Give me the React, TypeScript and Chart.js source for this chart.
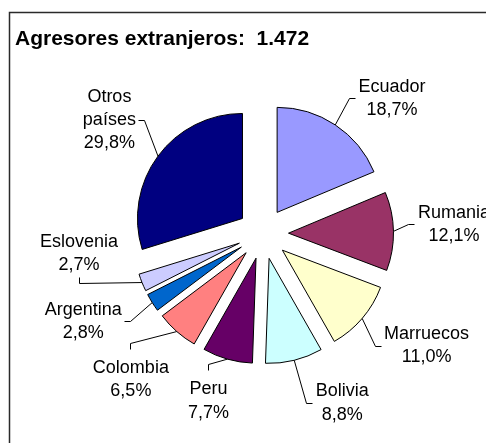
import React, { useEffect, useRef } from "react";
import { Chart, registerables } from "chart.js";

Chart.register(...registerables);

// ---- data ----
const TITLE = "Agresores extranjeros:  1.472";
const categories = [
  "Ecuador",
  "Rumania",
  "Marruecos",
  "Bolivia",
  "Peru",
  "Colombia",
  "Argentina",
  "Eslovenia",
  "Otros países",
];
const values = [18.7, 12.1, 11.0, 8.8, 7.7, 6.5, 2.8, 2.7, 29.8];
const colors = [
  "#9999FF",
  "#993366",
  "#FFFFCC",
  "#CCFFFF",
  "#660066",
  "#FF8080",
  "#0066CC",
  "#CCCCFF",
  "#000080",
];

// ---- layout / style ----
const RADIUS = 105;
const EXPLODE = 25.5;
const FONT_SIZE = 18;
const LINE_H = 23.3;
const CAP = 12.9;
const DESC = 3.8;
const HOOK = 6;
const GAP_SIDE = 3;
const GAP_TOP = 11;
const GAP_BOTTOM = 4;

type Side = "left" | "right" | "top" | "bottom";
// label placement relative to each slice's outer mid-arc point
const LABEL_LAYOUT: { dx: number; dy: number; side: Side; wrap?: boolean }[] = [
  { dx: 56.7, dy: -33.3, side: "left" },
  { dx: 60.5, dy: -13.7, side: "left" },
  { dx: 64.4, dy: 20.7, side: "left" },
  { dx: 48, dy: 36.1, side: "left" },
  { dx: -19, dy: 35.3, side: "top" },
  { dx: -45.9, dy: 41.6, side: "top" },
  { dx: -68.9, dy: 12.2, side: "right" },
  { dx: -63, dy: -36, side: "bottom" },
  { dx: -48.6, dy: -54.5, side: "right", wrap: true },
];

const fmtPct = (v: number) => v.toFixed(1).replace(".", ",") + "%";
const snap = (v: number) => Math.round(v - 0.5) + 0.5;

const framePlugin = {
  id: "frame",
  beforeDraw(chart: any) {
    const ctx = chart.ctx;
    ctx.save();
    ctx.strokeStyle = "#2a2a2a";
    ctx.lineWidth = 1.5;
    ctx.beginPath();
    ctx.moveTo(1.5, chart.height + 5);
    ctx.lineTo(1.5, 4.5);
    ctx.lineTo(chart.width + 5, 4.5);
    ctx.stroke();
    ctx.restore();
  },
};

const explodePlugin = {
  id: "explode",
  afterDatasetUpdate(chart: any, args: any) {
    args.meta.data.forEach((arc: any) => {
      const mid = (arc.startAngle + arc.endAngle) / 2;
      arc.x += Math.cos(mid) * EXPLODE;
      arc.y += Math.sin(mid) * EXPLODE;
    });
  },
};

const labelPlugin = {
  id: "pieLabels",
  afterDatasetsDraw(chart: any) {
    const ctx = chart.ctx;
    const meta = chart.getDatasetMeta(0);
    ctx.save();
    ctx.font = `${FONT_SIZE}px "Liberation Sans", Arial, sans-serif`;
    ctx.textAlign = "center";
    ctx.textBaseline = "alphabetic";
    ctx.fillStyle = "#000";
    ctx.strokeStyle = "#000";
    ctx.lineWidth = 1;
    meta.data.forEach((arc: any, i: number) => {
      const L = LABEL_LAYOUT[i];
      const mid = (arc.startAngle + arc.endAngle) / 2;
      const px = arc.x + Math.cos(mid) * arc.outerRadius;
      const py = arc.y + Math.sin(mid) * arc.outerRadius;
      const name = categories[i];
      const lines = [...(L.wrap ? name.split(" ") : [name]), fmtPct(values[i])];
      const cx = px + L.dx;
      const b1 = py + L.dy;
      const w = Math.max(...lines.map((t) => ctx.measureText(t).width));
      const top = b1 - CAP;
      const bottom = b1 + (lines.length - 1) * LINE_H + DESC;
      const midY = (top + bottom) / 2;
      let ax = 0, ay = 0, ex = 0, ey = 0;
      if (L.side === "left") {
        ax = cx - w / 2 - GAP_SIDE; ay = midY; ex = ax - HOOK; ey = ay;
      } else if (L.side === "right") {
        ax = cx + w / 2 + GAP_SIDE; ay = midY; ex = ax + HOOK; ey = ay;
      } else if (L.side === "top") {
        ax = cx; ay = top - GAP_TOP; ex = ax; ey = ay - HOOK;
      } else {
        ax = cx; ay = bottom + GAP_BOTTOM; ex = ax; ey = ay + HOOK;
      }
      ax = snap(ax); ay = snap(ay); ex = snap(ex); ey = snap(ey);
      ctx.beginPath();
      ctx.moveTo(px, py);
      ctx.lineTo(ex, ey);
      ctx.lineTo(ax, ay);
      ctx.stroke();
      lines.forEach((t, k) => ctx.fillText(t, cx, b1 + k * LINE_H));
    });
    ctx.restore();
  },
};

export default function App() {
  const ref = useRef<HTMLCanvasElement | null>(null);
  useEffect(() => {
    if (!ref.current) return;
    const chart = new Chart(ref.current, {
      type: "pie",
      data: {
        labels: categories,
        datasets: [
          {
            data: values,
            backgroundColor: colors,
            borderColor: "#000",
            borderWidth: 1,
          },
        ],
      },
      options: {
        responsive: false,
        animation: false,
        events: [],
        radius: RADIUS,
        layout: { padding: { left: 7, right: 0, top: 0, bottom: 28 } },
        plugins: {
          legend: { display: false },
          tooltip: { enabled: false },
          title: {
            display: true,
            text: TITLE,
            align: "start",
            color: "#000",
            font: { family: '"Liberation Sans", Arial, sans-serif', size: 21, weight: "bold" },
            padding: { top: 19, bottom: 0 },
          },
        },
      } as any,
      plugins: [framePlugin, explodePlugin, labelPlugin],
    });
    return () => chart.destroy();
  }, []);
  return (
    <div
      style={{
        position: "fixed",
        left: 0,
        top: 0,
        width: 486,
        height: 443,
        overflow: "hidden",
        background: "#fff",
      }}
    >
      <canvas
        ref={ref}
        width={503}
        height={435}
        style={{ display: "block", position: "absolute", left: 8, top: 8 }}
      />
    </div>
  );
}
